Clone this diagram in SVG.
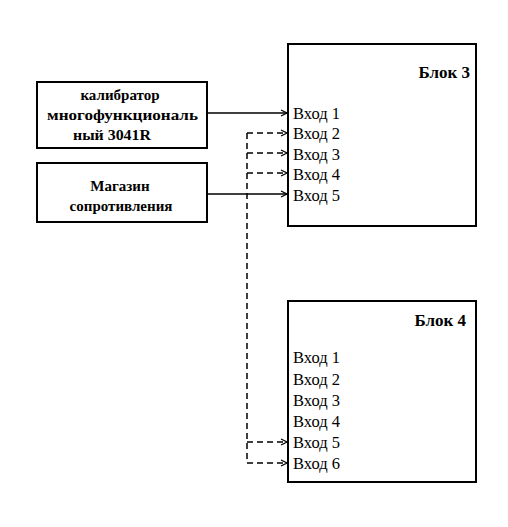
<svg xmlns="http://www.w3.org/2000/svg" width="508" height="527" viewBox="0 0 508 527">
<style>
.box{fill:#fff;stroke:#000;stroke-width:2}
.t{font-family:"Liberation Serif","Times New Roman",serif;font-size:15px;fill:#000}
.b{font-weight:bold}
.in{font-size:16.5px}
.hd{font-size:17px}
.ln{fill:none;stroke:#000;stroke-width:1.5}
.ds{stroke-dasharray:6 4}
</style>
<defs>
<marker id="ah" markerWidth="8" markerHeight="8" refX="7" refY="4" orient="auto" markerUnits="userSpaceOnUse">
<path d="M1,1 L7,4 L1,7" fill="none" stroke="#000" stroke-width="1.2"/>
</marker>
</defs>
<rect width="508" height="527" fill="#fff"/>
<g id="connectors">
<path class="ln" d="M207,113 H287" marker-end="url(#ah)"/>
<path class="ln" d="M207,194 H287" marker-end="url(#ah)"/>
<path class="ln ds" d="M247,133 V463"/>
<path class="ln ds" d="M247,133 H287" marker-end="url(#ah)"/>
<path class="ln ds" d="M247,153 H287" marker-end="url(#ah)"/>
<path class="ln ds" d="M247,173 H287" marker-end="url(#ah)"/>
<path class="ln ds" d="M247,442 H287" marker-end="url(#ah)"/>
<path class="ln ds" d="M247,463 H287" marker-end="url(#ah)"/>
</g>
<g id="calibrator">
<rect class="box" x="37" y="82" width="170" height="66"/>
<text class="t b" x="120" y="100" text-anchor="middle">калибратор</text>
<text class="t b" x="47" y="120" textLength="151" lengthAdjust="spacingAndGlyphs">многофункциональ</text>
<text class="t b" x="73" y="140" textLength="78" lengthAdjust="spacingAndGlyphs">ный 3041R</text>
</g>
<g id="magazin">
<rect class="box" x="37" y="163" width="170" height="59"/>
<text class="t b" x="120" y="191" text-anchor="middle">Магазин</text>
<text class="t b" x="121" y="211" text-anchor="middle">сопротивления</text>
</g>
<g id="blok3">
<rect class="box" x="288" y="44" width="188" height="182"/>
<text class="t b hd" x="470" y="78" text-anchor="end">Блок 3</text>
<text class="t in" x="293" y="119">Вход 1</text>
<text class="t in" x="293" y="139">Вход 2</text>
<text class="t in" x="293" y="160">Вход 3</text>
<text class="t in" x="293" y="180">Вход 4</text>
<text class="t in" x="293" y="201">Вход 5</text>
</g>
<g id="blok4">
<rect class="box" x="288" y="301" width="188" height="181"/>
<text class="t b hd" x="466" y="326" text-anchor="end">Блок 4</text>
<text class="t in" x="293" y="363">Вход 1</text>
<text class="t in" x="293" y="385">Вход 2</text>
<text class="t in" x="293" y="406">Вход 3</text>
<text class="t in" x="293" y="427">Вход 4</text>
<text class="t in" x="293" y="448">Вход 5</text>
<text class="t in" x="293" y="469">Вход 6</text>
</g>
</svg>
